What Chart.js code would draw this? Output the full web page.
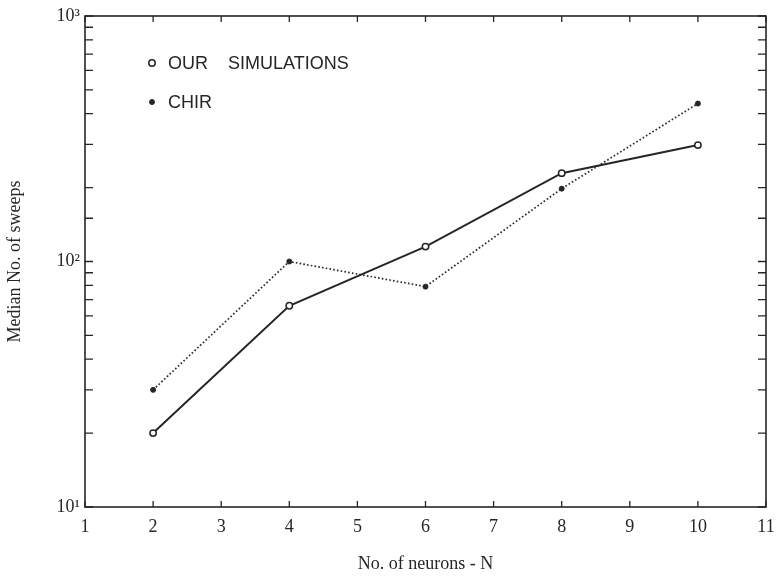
<!DOCTYPE html>
<html>
<head>
<meta charset="utf-8">
<script src="https://cdn.jsdelivr.net/npm/chart.js@4/dist/chart.umd.min.js"></script>
<style>
  html, body { margin: 0; padding: 0; background: #fff; }
  #wrap { width: 780px; height: 576px; }
</style>
</head>
<body>
<div id="wrap"><canvas id="myChart" width="780" height="576"></canvas></div>
<script>
// data
const neurons = [2, 4, 6, 8, 10];
const ourSimulations = [20, 66, 115, 229, 298];
const chir = [30, 100, 79, 198, 440];
const xTicks = [1, 2, 3, 4, 5, 6, 7, 8, 9, 10, 11];
const yLabels = { 10: '10\u00B9', 100: '10\u00B2', 1000: '10\u00B3' };

const ink = '#262626';
const serif = "'Liberation Serif', 'DejaVu Serif', serif";

// frame, inward ticks and the little legend inside the plot
const framePlugin = {
    id: 'frame',
    beforeDatasetsDraw(chart) {
        const { ctx, chartArea: a, scales } = chart;
        ctx.save();
        ctx.strokeStyle = ink;
        ctx.lineWidth = 1.6;
        ctx.strokeRect(a.left, a.top, a.right - a.left, a.bottom - a.top);
        ctx.lineWidth = 1.3;
        ctx.beginPath();
        scales.x.ticks.forEach(t => {
            const px = scales.x.getPixelForValue(t.value);
            ctx.moveTo(px, a.bottom); ctx.lineTo(px, a.bottom - 6);
            ctx.moveTo(px, a.top); ctx.lineTo(px, a.top + 6);
        });
        scales.y.ticks.forEach(t => {
            const py = scales.y.getPixelForValue(t.value);
            ctx.moveTo(a.left, py); ctx.lineTo(a.left + 8, py);
            ctx.moveTo(a.right, py); ctx.lineTo(a.right - 8, py);
        });
        ctx.stroke();
        ctx.restore();
    },
    afterDraw(chart) {
        const { ctx, chartArea: a } = chart;
        ctx.save();
        ctx.font = "18px 'Liberation Sans', Arial, sans-serif";
        ctx.fillStyle = ink;
        ctx.textBaseline = 'middle';
        chart.data.datasets.forEach((ds, i) => {
            const y = a.top + 47 + i * 39;
            const mx = a.left + 67;
            ctx.beginPath();
            ctx.arc(mx, y, ds.pointRadius, 0, Math.PI * 2);
            ctx.fillStyle = ds.pointBackgroundColor;
            ctx.fill();
            ctx.lineWidth = ds.pointBorderWidth;
            ctx.strokeStyle = ink;
            ctx.stroke();
            ctx.fillStyle = ink;
            ctx.fillText(ds.label, a.left + 83, y + 1);
        });
        ctx.restore();
    }
};

const ctx = document.getElementById('myChart').getContext('2d');
const myChart = new Chart(ctx, {
    type: 'line',
    data: {
        datasets: [{
            label: 'OUR    SIMULATIONS',
            data: neurons.map((n, i) => ({ x: n, y: ourSimulations[i] })),
            borderColor: ink,
            borderWidth: 2,
            pointRadius: 3.2,
            pointBackgroundColor: '#ffffff',
            pointBorderColor: ink,
            pointBorderWidth: 1.5,
            tension: 0
        }, {
            label: 'CHIR',
            data: neurons.map((n, i) => ({ x: n, y: chir[i] })),
            borderColor: ink,
            borderWidth: 1.7,
            borderDash: [1.6, 2.2],
            pointRadius: 2.5,
            pointBackgroundColor: ink,
            pointBorderColor: ink,
            pointBorderWidth: 1,
            tension: 0
        }]
    },
    options: {
        responsive: false,
        animation: false,
        events: [],
        layout: { padding: { top: 16, right: 14, left: 0, bottom: 0 } },
        plugins: {
            legend: { display: false },
            tooltip: { enabled: false }
        },
        scales: {
            x: {
                type: 'linear',
                min: 1,
                max: 11,
                afterBuildTicks: scale => {
                    scale.ticks = xTicks.map(v => ({ value: v }));
                },
                afterFit: scale => {
                    scale.height = 69;
                    scale.paddingRight = 0;
                    scale.paddingLeft = 0;
                },
                grid: { display: false, drawTicks: false, tickLength: 0 },
                border: { display: false },
                ticks: {
                    color: ink,
                    padding: 9,
                    font: { family: serif, size: 18 },
                    callback: v => String(v)
                },
                title: {
                    display: true,
                    text: 'No. of neurons - N',
                    color: ink,
                    font: { family: serif, size: 18 },
                    padding: { top: 0, bottom: 1 }
                }
            },
            y: {
                type: 'logarithmic',
                min: 10,
                max: 1000,
                afterFit: scale => {
                    scale.width = 85;
                    scale.paddingTop = 0;
                    scale.paddingBottom = 0;
                },
                grid: { display: false, drawTicks: false, tickLength: 0 },
                border: { display: false },
                ticks: {
                    color: ink,
                    padding: 5,
                    autoSkip: false,
                    font: { family: serif, size: 18 },
                    callback: v => yLabels[v] || ''
                },
                title: {
                    display: true,
                    text: 'Median No. of sweeps',
                    color: ink,
                    font: { family: serif, size: 18 },
                    padding: { top: 4, bottom: 0 }
                }
            }
        }
    },
    plugins: [framePlugin]
});
</script>
</body>
</html>
